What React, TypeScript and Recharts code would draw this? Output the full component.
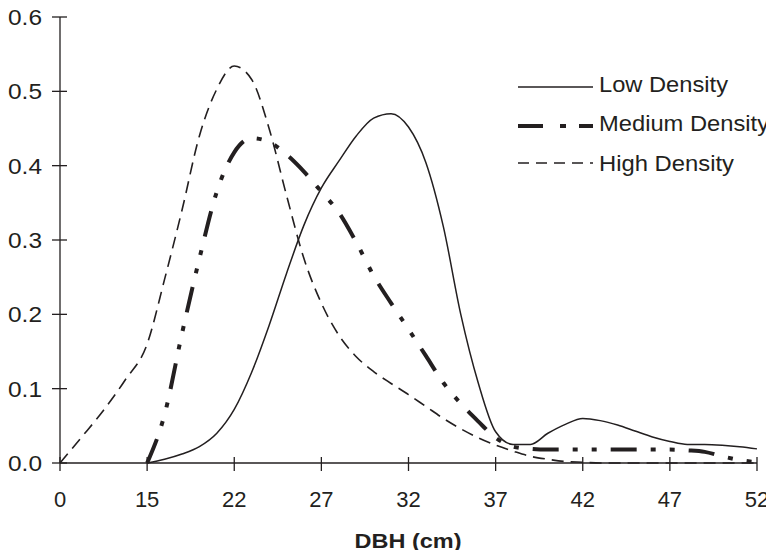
import React from 'react';
import { LineChart, Line, XAxis, YAxis } from 'recharts';

// x positions are in "tick slot" units: the DBH axis is categorical (0, 15, 22 ... 52 evenly spaced)
const xPositions = [
  0, 0.25, 0.5, 0.75,
  1, 1.2, 1.4, 1.6, 1.8,
  2, 2.2, 2.4, 2.6, 2.8,
  3, 3.2, 3.4, 3.6, 3.8,
  4, 4.2, 4.4, 4.6, 4.8,
  5, 5.2, 5.4, 5.6, 5.8,
  6, 6.2, 6.4, 6.6, 6.8,
  7, 7.2, 7.4, 7.6, 7.8,
  8,
];

const dbhTickLabels = ['0', '15', '22', '27', '32', '37', '42', '47', '52'];
const yTicks = [0, 0.1, 0.2, 0.3, 0.4, 0.5, 0.6];

const lowDensity = [
  null, null, null, null,
  0, 0.005, 0.012, 0.022, 0.04,
  0.072, 0.122, 0.185, 0.255, 0.32,
  0.37, 0.406, 0.44, 0.464, 0.47,
  0.452, 0.404, 0.318, 0.2, 0.108,
  0.042, 0.025, 0.025, 0.04, 0.052,
  0.06, 0.057, 0.051, 0.043, 0.035,
  0.029, 0.025, 0.025, 0.024, 0.022,
  0.019,
];

const mediumDensity = [
  null, null, null, null,
  0, 0.065, 0.174, 0.275, 0.365,
  0.418, 0.437, 0.432, 0.415, 0.392,
  0.365, 0.337, 0.297, 0.252, 0.215,
  0.18, 0.144, 0.108, 0.08, 0.056,
  0.034, 0.022, 0.019, 0.018, 0.018,
  0.018, 0.018, 0.018, 0.018, 0.018,
  0.018, 0.017, 0.015, 0.009, 0.004,
  0.001,
];

const highDensity = [
  0, 0.035, 0.071, 0.112,
  0.16, 0.247, 0.34, 0.44, 0.503,
  0.534, 0.516, 0.45, 0.36, 0.275,
  0.215, 0.172, 0.143, 0.123, 0.107,
  0.092, 0.076, 0.06, 0.046, 0.034,
  0.024, 0.016, 0.009, 0.005, 0.002,
  0.001, 0, 0, 0, 0,
  0, 0, 0, 0, 0,
  0,
];

const chartData = xPositions.map((pos, i) => ({
  pos,
  low: lowDensity[i],
  medium: mediumDensity[i],
  high: highDensity[i],
}));

const FONT = '"Liberation Sans", Arial, Helvetica, sans-serif';
const INK = '#231f20';

const MEDIUM_DASH = '26 14 5 14 5 14';
const HIGH_DASH = '12 7';

const YTick = (props: any) => {
  const { x, y, payload } = props;
  const axisX = x + 18;
  return (
    <g>
      <line x1={axisX - 8} x2={axisX + 7} y1={y} y2={y} stroke={INK} strokeWidth={1.3} />
      <text
        x={x}
        y={y}
        dy="0.36em"
        textAnchor="end"
        fontSize={22}
        fontFamily={FONT}
        fill={INK}
        textLength={34}
        lengthAdjust="spacingAndGlyphs"
      >
        {Number(payload.value).toFixed(1)}
      </text>
    </g>
  );
};

const XTick = (props: any) => {
  const { x, y, payload } = props;
  const axisY = y - 10;
  return (
    <g>
      <line x1={x} x2={x} y1={axisY - 6} y2={axisY + 8} stroke={INK} strokeWidth={1.3} />
      <text x={x} y={axisY + 44} textAnchor="middle" fontSize={22} fontFamily={FONT} fill={INK}>
        {dbhTickLabels[Math.round(payload.value)]}
      </text>
    </g>
  );
};

const App: React.FC = () => {
  return (
    // negative margin cancels the default body margin so chart coords = page coords
    <div style={{ position: 'relative', width: 774, height: 558, margin: -8, fontFamily: FONT }}>
      <LineChart
        width={774}
        height={558}
        data={chartData}
        margin={{ top: 17, right: 17, left: 0, bottom: 0 }}
      >
        <XAxis
          type="number"
          dataKey="pos"
          domain={[0, 8]}
          ticks={dbhTickLabels.map((_, i) => i)}
          interval={0}
          height={95}
          tickLine={false}
          tickSize={0}
          tickMargin={10}
          tick={XTick}
          axisLine={{ stroke: INK, strokeWidth: 1.3 }}
        />
        <YAxis
          type="number"
          domain={[0, 0.6]}
          ticks={yTicks}
          interval={0}
          width={60}
          tickLine={false}
          tickSize={0}
          tickMargin={18}
          tick={YTick}
          axisLine={{ stroke: INK, strokeWidth: 1.3 }}
        />
        <Line
          dataKey="low"
          type="monotone"
          stroke={INK}
          strokeWidth={1.5}
          dot={false}
          isAnimationActive={false}
        />
        <Line
          dataKey="medium"
          type="monotone"
          stroke={INK}
          strokeWidth={4}
          strokeDasharray={MEDIUM_DASH}
          dot={false}
          isAnimationActive={false}
        />
        <Line
          dataKey="high"
          type="monotone"
          stroke={INK}
          strokeWidth={1.6}
          strokeDasharray={HIGH_DASH}
          dot={false}
          isAnimationActive={false}
        />
      </LineChart>

      {/* legend + axis title drawn on top */}
      <svg
        width={774}
        height={558}
        style={{ position: 'absolute', left: 0, top: 0, pointerEvents: 'none' }}
      >
        <line x1={518} x2={593} y1={87} y2={87} stroke={INK} strokeWidth={1.5} />
        <text x={599} y={92} fontSize={22} fontFamily={FONT} fill={INK} textLength={129} lengthAdjust="spacingAndGlyphs">
          Low Density
        </text>
        <line x1={518} x2={593} y1={126} y2={126} stroke={INK} strokeWidth={4} strokeDasharray="25 17 6 13 14" />
        <text x={599} y={131} fontSize={22} fontFamily={FONT} fill={INK} textLength={170} lengthAdjust="spacingAndGlyphs">
          Medium Density
        </text>
        <line x1={518} x2={593} y1={163} y2={163} stroke={INK} strokeWidth={1.6} strokeDasharray="11 7" />
        <text x={599} y={171} fontSize={22} fontFamily={FONT} fill={INK} textLength={135} lengthAdjust="spacingAndGlyphs">
          High Density
        </text>
        <text
          x={408}
          y={548}
          textAnchor="middle"
          fontSize={21}
          fontWeight="bold"
          fontFamily={FONT}
          fill={INK}
          textLength={107}
          lengthAdjust="spacingAndGlyphs"
        >
          DBH (cm)
        </text>
      </svg>
    </div>
  );
};

export default App;
